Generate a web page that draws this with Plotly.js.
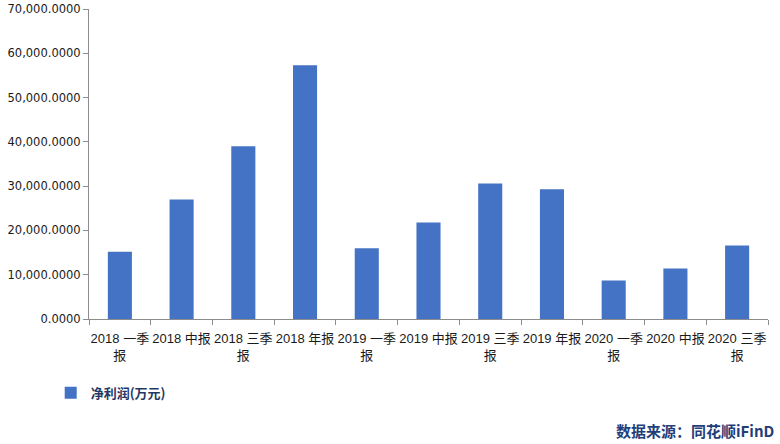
<!DOCTYPE html>
<html>
<head>
<meta charset="utf-8">
<script src="https://cdn.plot.ly/plotly-3.0.1.min.js"></script>
<style>html,body{margin:0;padding:0;background:#fff;}#chart{width:780px;height:444px;}</style>
</head>
<body>
<div id="chart"></div>
<script>
const categories = ["2018 一季<br>报","2018 中报","2018 三季<br>报","2018 年报","2019 一季<br>报","2019 中报","2019 三季<br>报","2019 年报","2020 一季<br>报","2020 中报","2020 三季<br>报"];
const netProfit = [15200, 27000, 39000, 57300, 16000, 21800, 30600, 29300, 8700, 11400, 16600];
const seriesName = "净利润(万元)";
const yTicks = [0, 10000, 20000, 30000, 40000, 50000, 60000, 70000];

const trace = {
  type: "bar",
  x: categories,
  y: netProfit,
  name: seriesName,
  marker: {color: "#4472C4"},
  hoverinfo: "x+y"
};

const layout = {
  width: 780, height: 444,
  margin: {l: 89, r: 12, t: 9, b: 125, autoexpand: false},
  paper_bgcolor: "#fff", plot_bgcolor: "#fff",
  bargap: 0.61,
  showlegend: true,
  legend: {
    x: 0.065, y: -0.19, xref: "container", yref: "paper",
    xanchor: "left", yanchor: "top",
    orientation: "h",
    font: {family: "Noto Sans CJK SC", size: 13, color: "#1F3864", weight: "bold"},
    itemwidth: 30
  },
  xaxis: {
    type: "category",
    automargin: false,
    tickson: "boundaries",
    ticks: "outside", ticklen: 5, tickcolor: "#8c8c8c",
    ticklabelstandoff: 7,
    showline: true, linecolor: "#8c8c8c", linewidth: 1,
    showgrid: false,
    tickangle: 0,
    tickfont: {family: "Liberation Sans, Noto Sans CJK SC", size: 13, color: "#1a1a1a"}
  },
  yaxis: {
    automargin: false,
    range: [0, 70000],
    tickvals: yTicks,
    tickformat: ",.4f",
    ticks: "outside", ticklen: 5, tickcolor: "#8c8c8c",
    showline: true, linecolor: "#8c8c8c", linewidth: 1,
    showgrid: false, zeroline: false,
    tickfont: {family: "DejaVu Sans", size: 11.5, color: "#1a1a1a"}
  },
  annotations: [{
    text: "<b>数据来源：同花顺iFinD</b>",
    xref: "paper", yref: "paper",
    x: 1.012, y: -0.36, xanchor: "right", yanchor: "middle",
    showarrow: false,
    font: {family: "Noto Sans CJK SC", size: 15, color: "#1F3E7A"}
  }]
};

Plotly.newPlot("chart", [trace], layout, {displayModeBar: false, staticPlot: true});
</script>
</body>
</html>
